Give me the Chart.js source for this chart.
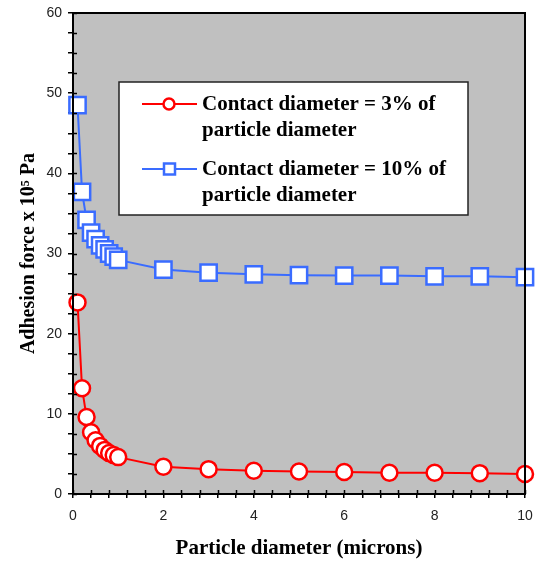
<!DOCTYPE html>
<html lang="en">
<head>
  <meta charset="UTF-8">
  <title>Adhesion force vs particle diameter</title>
  <script src="https://cdn.jsdelivr.net/npm/chart.js"></script>
  <style>
    html, body { margin: 0; padding: 0; background: #fff; }
    #wrap { width: 535px; height: 562px; }
  </style>
</head>
<body>
  <div id="wrap"><canvas id="adhesionChart" width="535" height="562"></canvas></div>

  <script>
    // particle diameter (microns)
    const diameters = [0.1, 0.2, 0.3, 0.4, 0.5, 0.6, 0.7, 0.8, 0.9, 1, 2, 3, 4, 5, 6, 7, 8, 9, 10];
    // adhesion force x 10^5 Pa
    const force3pct  = [23.9, 13.2, 9.6, 7.7, 6.7, 6.0, 5.5, 5.1, 4.85, 4.6, 3.4, 3.1, 2.9, 2.8, 2.75, 2.65, 2.65, 2.6, 2.5];
    const force10pct = [48.5, 37.7, 34.2, 32.6, 31.8, 31.0, 30.5, 30.0, 29.6, 29.2, 28.0, 27.6, 27.4, 27.3, 27.25, 27.25, 27.15, 27.15, 27.05];

    const legendLines = [
      ["Contact diameter = 3% of", "particle diameter"],
      ["Contact diameter = 10% of", "particle diameter"]
    ];
    const xTickLabels = [0, 2, 4, 6, 8, 10];
    const yTickLabels = [0, 10, 20, 30, 40, 50, 60];

    const RED = "#ff0000";
    const BLUE = "#3a6cff";
    const SERIF = "'Liberation Serif', 'Times New Roman', serif";
    const SANS = "'Liberation Sans', Arial, sans-serif";

    function isLabel(v, list) {
      return list.some(l => Math.abs(l - v) < 1e-6);
    }

    // grey plot background + black frame
    const frame = {
      id: "frame",
      beforeDraw(chart) {
        const { ctx, chartArea: a } = chart;
        ctx.save();
        ctx.fillStyle = "#c0c0c0";
        ctx.fillRect(a.left, a.top, a.right - a.left, a.bottom - a.top);
        ctx.restore();
      },
      afterDatasetsDraw(chart) {
        const { ctx, chartArea: a, scales } = chart;
        ctx.save();
        ctx.strokeStyle = "#000";
        ctx.lineWidth = 2;
        ctx.strokeRect(a.left, a.top, a.right - a.left, a.bottom - a.top);
        // inner half of the tick marks (ticks cross the axis)
        ctx.lineWidth = 1.5;
        ctx.beginPath();
        scales.x.ticks.forEach(t => {
          const px = Math.round(scales.x.getPixelForValue(t.value)) + 0.5;
          ctx.moveTo(px, a.bottom);
          ctx.lineTo(px, a.bottom - 4);
        });
        scales.y.ticks.forEach(t => {
          const py = Math.round(scales.y.getPixelForValue(t.value)) + 0.5;
          ctx.moveTo(a.left, py);
          ctx.lineTo(a.left + 4, py);
        });
        ctx.stroke();
        ctx.restore();
      }
    };

    // boxed legend with two-line labels, drawn inside the plot
    const boxLegend = {
      id: "boxLegend",
      afterDraw(chart) {
        const { ctx } = chart;
        const box = { x: 119, y: 82, w: 349, h: 133 };
        ctx.save();
        ctx.fillStyle = "#fff";
        ctx.fillRect(box.x, box.y, box.w, box.h);
        ctx.strokeStyle = "#222";
        ctx.lineWidth = 1.5;
        ctx.strokeRect(box.x, box.y, box.w, box.h);

        chart.data.datasets.forEach((ds, i) => {
          const rowY = box.y + 22 + i * 65;
          ctx.strokeStyle = ds.borderColor;
          ctx.lineWidth = 2;
          ctx.beginPath();
          ctx.moveTo(box.x + 23, rowY);
          ctx.lineTo(box.x + 78, rowY);
          ctx.stroke();
          ctx.fillStyle = "#fff";
          ctx.lineWidth = 2.5;
          if (ds.pointStyle === "rect") {
            ctx.fillRect(box.x + 45, rowY - 5.5, 11, 11);
            ctx.strokeRect(box.x + 45, rowY - 5.5, 11, 11);
          } else {
            ctx.beginPath();
            ctx.arc(box.x + 50, rowY, 5.5, 0, Math.PI * 2);
            ctx.fill();
            ctx.stroke();
          }
          ctx.fillStyle = "#000";
          ctx.font = "bold 21px " + SERIF;
          ctx.textBaseline = "middle";
          legendLines[i].forEach((line, j) => {
            ctx.fillText(line, box.x + 83, rowY + 1 + j * 26);
          });
        });
        ctx.restore();
      }
    };

    new Chart(document.getElementById("adhesionChart"), {
      type: "line",
      data: {
        datasets: [
          {
            label: legendLines[0].join(" "),
            data: diameters.map((d, i) => ({ x: d, y: force3pct[i] })),
            borderColor: RED,
            borderWidth: 2,
            pointStyle: "circle",
            pointRadius: 8,
            pointBorderWidth: 2.5,
            pointBackgroundColor: "#fff",
            pointBorderColor: RED,
            tension: 0
          },
          {
            label: legendLines[1].join(" "),
            data: diameters.map((d, i) => ({ x: d, y: force10pct[i] })),
            borderColor: BLUE,
            borderWidth: 2,
            pointStyle: "rect",
            pointRadius: 11.5,
            pointBorderWidth: 2.5,
            pointBackgroundColor: "#fff",
            pointBorderColor: BLUE,
            tension: 0
          }
        ]
      },
      options: {
        responsive: false,
        animation: false,
        clip: false,
        layout: { autoPadding: false, padding: { top: 13, right: 10, left: 0, bottom: 0 } },
        plugins: {
          legend: { display: false },
          tooltip: { enabled: false }
        },
        scales: {
          x: {
            type: "linear",
            min: 0,
            max: 10,
            afterFit(s) { s.height = 68; s.paddingLeft = 0; s.paddingRight = 0; },
            border: { display: true, color: "#000", width: 2 },
            grid: { drawOnChartArea: false, drawTicks: true, tickLength: 4, color: "#000", lineWidth: 1.5 },
            ticks: {
              stepSize: 0.4,
              autoSkip: false,
              maxRotation: 0,
              padding: 10,
              color: "#222",
              font: { family: SANS, size: 14 },
              callback: v => isLabel(v, xTickLabels) ? String(Math.round(v)) : ""
            },
            title: {
              display: true,
              text: "Particle diameter (microns)",
              color: "#000",
              font: { family: SERIF, size: 21, weight: "bold" },
              padding: { top: 0, bottom: 1 }
            }
          },
          y: {
            type: "linear",
            min: 0,
            max: 60,
            afterFit(s) { s.width = 73; s.paddingTop = 0; s.paddingBottom = 0; },
            border: { display: true, color: "#000", width: 2 },
            grid: { drawOnChartArea: false, drawTicks: true, tickLength: 5, color: "#000", lineWidth: 1.5 },
            ticks: {
              stepSize: 2.5,
              autoSkip: false,
              padding: 6,
              color: "#222",
              font: { family: SANS, size: 14 },
              callback: v => isLabel(v, yTickLabels) ? String(Math.round(v)) : ""
            },
            title: {
              display: true,
              text: "Adhesion force x 10\u2075 Pa",
              color: "#000",
              font: { family: SERIF, size: 20, weight: "bold" },
              padding: { top: 17, bottom: 0 }
            }
          }
        }
      },
      plugins: [frame, boxLegend]
    });
  </script>
</body>
</html>
